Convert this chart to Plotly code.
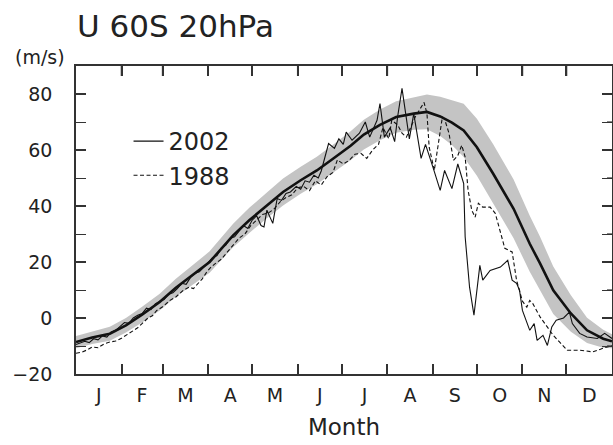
import plotly.graph_objects as go

# ---------------- data ----------------
month_labels = ["J", "F", "M", "A", "M", "J", "J", "A", "S", "O", "N", "D"]
month_starts = [0, 31, 59, 90, 120, 151, 181, 212, 243, 273, 304, 334, 365]

y_ticks = [-20, 0, 20, 40, 60, 80]
y_tick_text = ["−20", "0", "20", "40", "60", "80"]
y_minor = [-10, 10, 30, 50, 70]

# climatological mean (thick line) and spread (grey band half-width)
clim_days = [0, 11, 23, 34, 45, 57, 68, 80, 91, 107, 118, 130, 141, 153, 164, 175,
             187, 196, 207, 218, 230, 239, 248, 256, 264, 273, 284, 298, 309, 316,
             325, 337, 348, 359, 365]
clim_mean = [-8.6, -7.0, -5.6, -2.6, 1.2, 5.7, 10.8, 15.6, 20.0, 29.5, 34.9, 40.2,
             45.0, 49.2, 52.7, 56.9, 61.5, 65.5, 69.0, 71.8, 73.0, 73.6, 72.0, 69.8,
             67.0, 61.0, 51.6, 39.0, 26.5, 19.5, 9.9, 1.6, -4.4, -7.4, -8.3]
clim_spread = [2.2, 2.3, 2.5, 2.6, 2.8, 3.0, 3.2, 3.5, 3.8, 4.2, 4.5, 4.6, 4.8, 4.8,
               4.9, 5.0, 5.2, 5.3, 5.5, 5.6, 5.8, 6.2, 7.0, 8.0, 9.5, 10.2, 10.5,
               10.5, 10.0, 9.5, 8.5, 6.5, 4.5, 3.2, 2.5]

# year 2002 (thin solid)
y2002_days = [0, 3, 6, 9, 12, 15, 18, 21, 24, 27, 30, 33, 36, 39, 42, 45, 48, 51, 54,
              57, 60, 63, 66, 69, 72, 75, 78, 81, 84, 87, 90, 93, 96, 99, 102, 105,
              108, 111, 114, 117, 120, 123, 126, 128, 130, 134, 137, 140, 143, 146,
              150, 153, 156, 159, 162, 165, 167, 172, 176, 179, 182, 184, 188, 193,
              197, 200, 205, 207, 210, 214, 217, 219, 222, 227, 230, 235, 238, 243,
              248, 251, 256, 260, 264, 265, 268, 271, 275, 277, 282, 289, 294, 297,
              300, 302, 304, 309, 312, 314, 318, 321, 324, 327, 332, 336, 338, 343,
              348, 355, 360, 365]
y2002_vals = [-9.5, -9.0, -8.3, -8.8, -7.4, -7.8, -6.4, -6.8, -5.0, -4.4, -3.0, -1.6,
              -1.9, 0.0, 1.0, 1.6, 3.5, 3.0, 5.0, 6.0, 6.6, 8.5, 9.0, 10.5, 12.4, 12.0,
              14.5, 16.0, 16.5, 18.2, 20.0, 21.5, 22.3, 25.0, 26.0, 28.5, 29.0, 31.0,
              33.0, 32.0, 35.0, 36.5, 33.0, 32.5, 38.5, 33.8, 42.7, 42.0, 44.5, 45.0,
              47.0, 46.0, 49.0, 48.5, 51.0, 50.0, 52.5, 62.3, 60.6, 64.0, 62.0, 66.4,
              63.5, 66.0, 70.0, 64.6, 70.6, 76.6, 64.6, 68.0, 63.0, 71.8, 82.0, 64.0,
              73.0, 57.0, 62.0, 54.0, 45.6, 52.7, 46.2, 55.0, 48.0, 29.0, 11.0, 1.0,
              18.8, 13.5, 17.0, 18.2, 20.6, 13.5, 12.4, 10.0, 2.7, -4.4, -2.0, -8.0,
              -6.2, -9.8, -3.2, -0.8, 0.0, 2.1, -2.0, -5.5, -6.8, -7.3, -5.5, -7.3]

# year 1988 (thin dashed)
y1988_days = [0, 4, 8, 11, 15, 19, 23, 27, 31, 34, 38, 42, 45, 49, 52, 55, 59, 64, 68,
              73, 77, 80, 82, 86, 89, 92, 95, 99, 103, 107, 111, 115, 119, 123, 127,
              131, 135, 139, 143, 147, 151, 155, 159, 163, 167, 171, 175, 178, 182,
              186, 190, 194, 198, 202, 206, 209, 213, 215, 219, 222, 225, 231, 237,
              239, 240.5, 244, 247, 249.5, 251, 254, 257, 260, 262.7, 265, 267, 269.5,
              271.8, 274, 277, 282, 285.5, 289, 292, 297, 300, 304, 307, 309, 311, 316,
              320.6, 325, 330, 334.5, 343, 352, 359, 365]
y1988_vals = [-12.6, -12.2, -11.3, -10.4, -10.6, -9.3, -8.6, -8.2, -7.2, -6.2, -5.0,
              -3.5, -2.0, 0.0, 0.8, 2.7, 4.0, 6.3, 7.5, 9.9, 11.0, 10.5, 11.7, 14.0,
              16.4, 18.2, 19.5, 21.0, 23.5, 26.0, 28.5, 30.0, 33.0, 35.0, 37.0, 37.5,
              39.0, 41.5, 43.0, 44.0, 46.5, 47.0, 45.5, 49.0, 47.5, 50.5, 52.0, 56.5,
              55.0, 56.3, 58.5, 58.8, 57.0, 60.0, 62.0, 68.0, 64.0, 70.6, 69.0, 66.0,
              64.6, 71.8, 77.0, 73.0, 61.0, 52.7, 63.5, 71.8, 71.0, 66.0, 56.3, 58.0,
              61.7, 57.5, 45.6, 38.5, 36.0, 41.0, 39.6, 39.6, 37.4, 30.2, 24.9, 23.6,
              13.5, 6.0, 3.9, 6.3, 5.2, 0.4, -3.2, -6.2, -9.0, -11.5, -11.5, -12.1,
              -10.8, -9.8]

assert len(clim_days) == len(clim_mean) == len(clim_spread)
assert len(y2002_days) == len(y2002_vals), (len(y2002_days), len(y2002_vals))
assert len(y1988_days) == len(y1988_vals), (len(y1988_days), len(y1988_vals))

# ---------------- figure ----------------
FONT = "DejaVu Sans"
INK = "#222222"
AX = "#333333"
PLOT_W, PLOT_H = 536, 308          # plot-area size in px (from margins below)
MAJOR_LEN, MINOR_LEN = 10, 5       # inward tick lengths in px

band_upper = [m + s for m, s in zip(clim_mean, clim_spread)]
band_lower = [m - s for m, s in zip(clim_mean, clim_spread)]

fig = go.Figure()
fig.add_trace(go.Scatter(x=clim_days, y=band_upper, mode="lines",
                         line=dict(width=0, color="rgba(0,0,0,0)"),
                         showlegend=False, hoverinfo="skip"))
fig.add_trace(go.Scatter(x=clim_days, y=band_lower, mode="lines",
                         line=dict(width=0, color="rgba(0,0,0,0)"),
                         fill="tonexty", fillcolor="#c4c4c4",
                         showlegend=False, hoverinfo="skip"))
fig.add_trace(go.Scatter(x=clim_days, y=clim_mean, mode="lines", xaxis="x2",
                         line=dict(color="#111111", width=2.6),
                         showlegend=False, name="climatology"))
fig.add_trace(go.Scatter(x=y2002_days, y=y2002_vals, mode="lines",
                         line=dict(color="#111111", width=1.1), name="2002",
                         legendgroup="a"))
fig.add_trace(go.Scatter(x=y1988_days, y=y1988_vals, mode="lines",
                         line=dict(color="#111111", width=1.1, dash="4px,2.5px"),
                         name="1988", legendgroup="b"))

month_mid = [(a + b) / 2 for a, b in zip(month_starts[:-1], month_starts[1:])]

fig.update_layout(
    # month-boundary ticks
    xaxis=dict(
        range=[0, 365], tickmode="array", tickvals=month_starts[1:-1],
        showticklabels=False, ticks="inside", ticklen=MAJOR_LEN, tickwidth=1.6,
        tickcolor=AX, showgrid=False, zeroline=False, automargin=False,
        showline=True, linecolor=AX, linewidth=1.6, mirror="allticks",
    ),
    # month letters centred in each month
    xaxis2=dict(
        overlaying="x", side="bottom", anchor="y", range=[0, 365],
        tickmode="array", tickvals=month_mid, ticktext=month_labels, ticks="",
        showgrid=False, zeroline=False, showline=False, automargin=False,
        tickfont=dict(family=FONT, size=19, color=INK), ticklabelstandoff=8,
        title=dict(text="Month", font=dict(family=FONT, size=23, color=INK), standoff=13),
    ),
    yaxis=dict(
        range=[-20, 90], tickmode="array", tickvals=y_ticks, ticktext=y_tick_text,
        ticks="inside", ticklen=MAJOR_LEN, tickwidth=1.6, tickcolor=AX,
        showgrid=False, zeroline=False, automargin=False,
        showline=True, linecolor=AX, linewidth=1.6, mirror="allticks",
        tickfont=dict(family=FONT, size=19, color=INK), ticklabelstandoff=18,
        minor=dict(tickmode="array", tickvals=y_minor, ticks="inside", ticklen=MINOR_LEN,
                   tickwidth=1.2, tickcolor=AX, showgrid=False),
    ),
)

# mirrored inward ticks on the top and right frame edges
tick_shapes = []
for v in month_starts[1:-1]:
    tick_shapes.append(dict(type="line", xref="x", yref="paper", x0=v, x1=v,
                            y0=1, y1=1 - MAJOR_LEN / PLOT_H, layer="above",
                            line=dict(color=AX, width=1.6)))
for v in y_ticks[1:]:
    tick_shapes.append(dict(type="line", xref="paper", yref="y", y0=v, y1=v,
                            x0=1, x1=1 - MAJOR_LEN / PLOT_W, layer="above",
                            line=dict(color=AX, width=1.6)))
for v in y_minor:
    tick_shapes.append(dict(type="line", xref="paper", yref="y", y0=v, y1=v,
                            x0=1, x1=1 - MINOR_LEN / PLOT_W, layer="above",
                            line=dict(color=AX, width=1.2)))

fig.add_annotation(text="U 60S 20hPa", xref="paper", yref="paper", x=-0.002, y=1.13,
                   xanchor="left", yanchor="middle", showarrow=False,
                   font=dict(family=FONT, size=31, color=INK))
fig.add_annotation(text="(m/s)", xref="paper", yref="paper", x=-0.067, y=1.03,
                   xanchor="center", yanchor="middle", showarrow=False,
                   font=dict(family=FONT, size=19, color=INK))

fig.update_layout(
    width=613, height=445,
    margin=dict(l=76, r=1, t=66, b=71, autoexpand=False),
    paper_bgcolor="white", plot_bgcolor="white",
    shapes=tick_shapes,
    legend=dict(x=0.098, y=0.828, xanchor="left", yanchor="top",
                traceorder="normal", tracegroupgap=11,
                bgcolor="rgba(0,0,0,0)", font=dict(family=FONT, size=24, color=INK)),
    showlegend=True,
)

fig.write_html("out.html", config={"displayModeBar": False},
               post_script="document.body.style.margin='0';document.body.style.overflow='hidden';")
